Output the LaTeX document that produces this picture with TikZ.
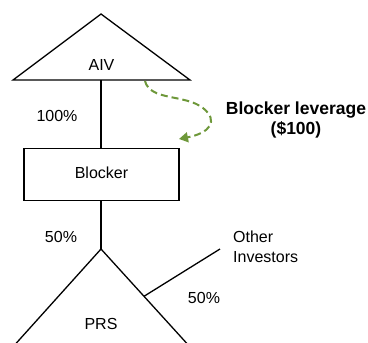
\documentclass[tikz,border=0pt]{standalone}
\usepackage{fontspec}
\setmainfont{Liberation Sans}
\usetikzlibrary{arrows.meta,calc}
\definecolor{levgreen}{RGB}{110,152,58}
\begin{document}
\begin{tikzpicture}[x=1pt,y=-1pt,
  line/.style={line width=1.3pt, line join=miter},
  txt/.style={inner sep=0pt, font=\fontsize{16}{20}\selectfont},
  boldtxt/.style={inner sep=0pt, align=center, font=\fontsize{17.5}{19.5}\selectfont\bfseries},
  leverage/.style={levgreen, line width=2pt, dash pattern=on 7pt off 4pt,
    -{Triangle[length=9pt,width=10pt]}}]
\useasboundingbox (0,0) rectangle (368,343);
\clip (0,0) rectangle (368,343);

% AIV triangle
\coordinate (aivTop) at (101,14);
\coordinate (aivL) at (13,80);
\coordinate (aivR) at (190,80);
\coordinate (aivBase) at (101,80);
\draw[line] (aivTop) -- (aivR) -- (aivL) -- cycle;
\node[txt, anchor=base] (aiv) at (101.5,70) {AIV};

% Blocker box
\node[line, draw, rectangle, minimum width=155pt, minimum height=52pt, inner sep=0pt]
  (blocker) at (101.5,174.3) {};
\node[txt, anchor=base] (blockerlbl) at (101.5,178) {Blocker};

% AIV -> Blocker
\draw[line] (aivBase) -- (blocker.north -| aivBase);
\node[txt, anchor=base] (p100) at (57,121.5) {100\%};

% PRS triangle (base runs off the lower edge)
\coordinate (prsTop) at (101,249);
\coordinate (prsL) at (2,359);
\coordinate (prsR) at (201,359);
\draw[line] (prsL) -- (prsTop) -- (prsR);
\node[txt, anchor=base] (prs) at (101,329) {PRS};

% Blocker -> PRS
\draw[line] (blocker.south -| prsTop) -- (prsTop);
\node[txt, anchor=base] (p50a) at (61,242) {50\%};

% Other investors -> PRS
\coordinate (othEnd) at (220,249);
\coordinate (othJoin) at ($(prsTop)!0.43!(prsR)$);
\draw[line] (othEnd) -- (othJoin);
\node[txt, anchor=base west] (oth1) at (233,242) {Other};
\node[txt, anchor=base west] (oth2) at (233,262.3) {Investors};
\node[txt, anchor=base] (p50b) at (204,303) {50\%};

% Leverage annotation
\node[boldtxt, anchor=north] (lev) at (296,102) {Blocker leverage\\(\$100)};
\coordinate (levStart) at (145,81);
\coordinate (levEnd) at (179,139);
\draw[leverage] (levStart) .. controls (150,101) and (185,94) .. (203,108)
  .. controls (219,121) and (210,133) .. (levEnd);
\end{tikzpicture}
\end{document}
